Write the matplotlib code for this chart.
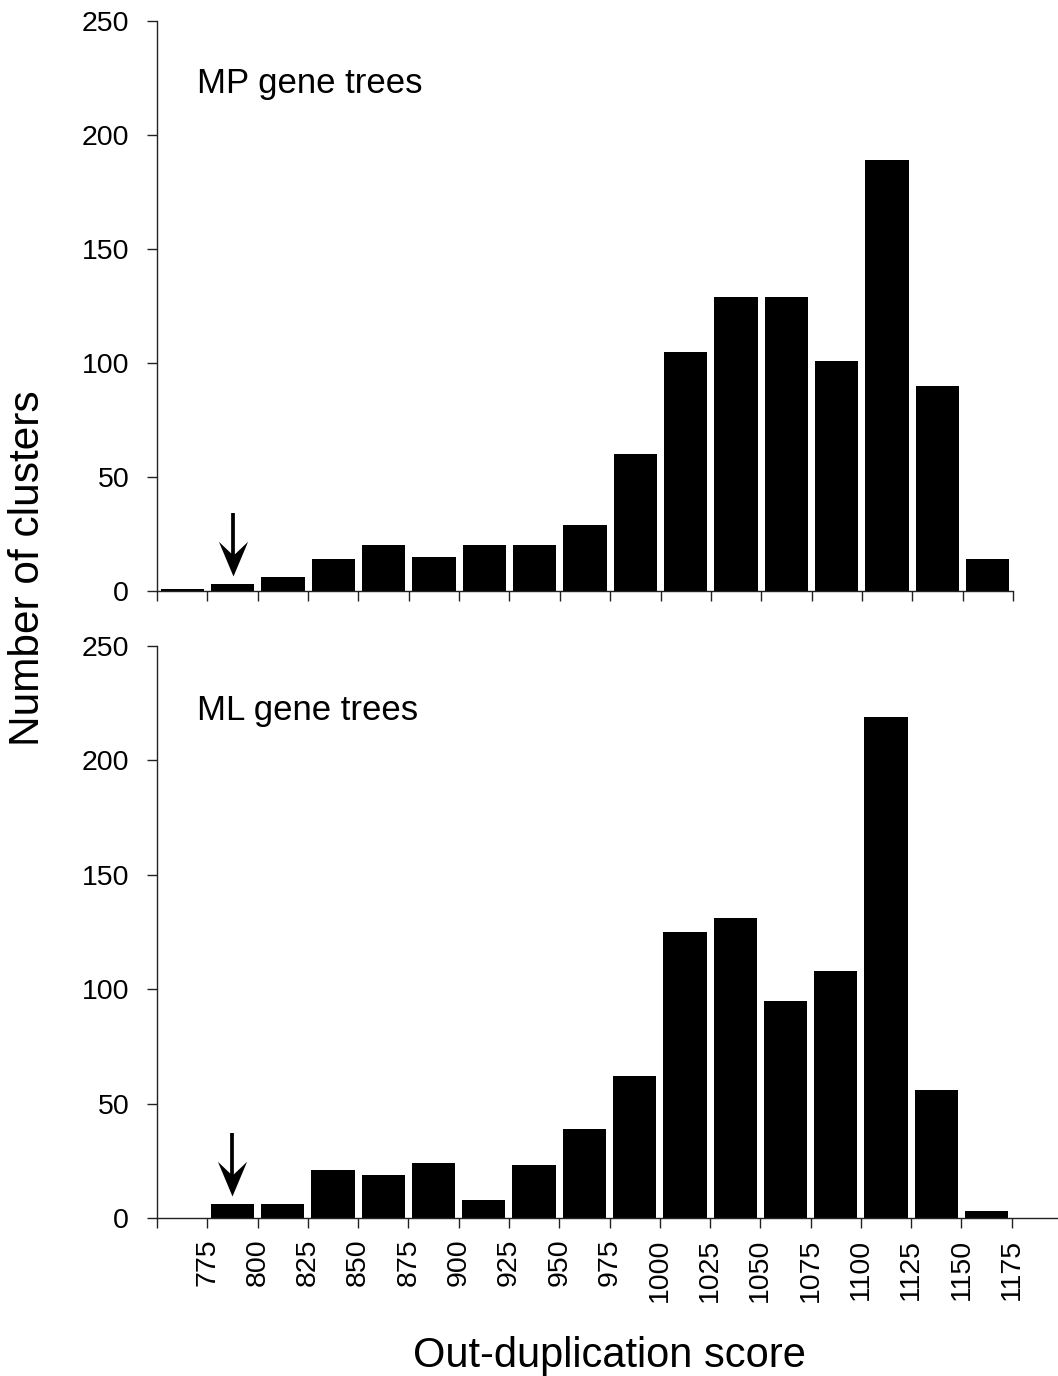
import matplotlib.pyplot as plt
import numpy as np
from matplotlib.path import Path

plt.rcParams['font.family'] = ['Liberation Sans', 'DejaVu Sans']

# bin edges 750..1175, step 25
binStarts = [750, 775, 800, 825, 850, 875, 900, 925, 950, 975,
             1000, 1025, 1050, 1075, 1100, 1125, 1150]
mpCounts = [1, 3, 6, 14, 20, 15, 20, 20, 29, 60,
            105, 129, 129, 101, 189, 90, 14]
mlCounts = [0, 6, 6, 21, 19, 24, 8, 23, 39, 62,
            125, 131, 95, 108, 219, 56, 3]
tickValues = [750, 775, 800, 825, 850, 875, 900, 925, 950, 975, 1000,
              1025, 1050, 1075, 1100, 1125, 1150, 1175]
tickLabels = [""] + [str(v) for v in tickValues[1:]]

BIN = 25
W, H = 1058, 1376

fig = plt.figure(figsize=(W / 100, H / 100), dpi=100)

axTop = fig.add_axes([157 / W, 1 - 591 / H, (1013 - 157) / W, (591 - 21) / H])
axBot = fig.add_axes([157 / W, 1 - 1218 / H, (1058 - 157) / W, (1218 - 646) / H])

# notched arrow head, tip at the origin
HEAD = Path([(0, 0), (-0.42, 1), (0, 0.6), (0.42, 1), (0, 0)],
            [Path.MOVETO, Path.LINETO, Path.LINETO, Path.LINETO, Path.CLOSEPOLY])


def draw_arrow(ax, x, yTip, yTop):
    ax.plot([x, x], [yTop, yTip + 8], color="black", lw=2.7,
            solid_capstyle="butt")
    ax.plot([x], [yTip], marker=HEAD, markersize=50, color="black",
            markeredgewidth=0, linestyle="none")


def style_axis(ax, xmax):
    centers = np.array(binStarts) + BIN / 2
    ax.set_xlim(750, xmax)
    ax.set_ylim(0, 250)
    ax.set_yticks(range(0, 251, 50))
    ax.set_xticks(tickValues)
    for s in ["top", "right"]:
        ax.spines[s].set_visible(False)
    for s in ["left", "bottom"]:
        ax.spines[s].set_linewidth(1.0)
        ax.spines[s].set_color("#222222")
    ax.tick_params(axis="y", direction="out", length=7, width=1.0,
                   pad=13, labelsize=20.5, color="#222222")
    ax.tick_params(axis="x", direction="out", length=7, width=1.0,
                   pad=8, labelsize=20.5, color="#222222")
    return centers


centers = style_axis(axTop, 1175)
axTop.bar(centers, mpCounts, width=21.5, color="black")
axTop.set_xticklabels([])
axTop.text(0.047, 0.89, "MP gene trees", transform=axTop.transAxes,
           fontsize=25, va="center", ha="left")
draw_arrow(axTop, 787.5, 6.6, 34.2)

style_axis(axBot, 1198)
axBot.bar(centers, mlCounts, width=21.5, color="black")
axBot.set_xticklabels(tickLabels, rotation=90)
axBot.text(0.044, 0.888, "ML gene trees", transform=axBot.transAxes,
           fontsize=25, va="center", ha="left")
draw_arrow(axBot, 787.5, 9.6, 37.1)

fig.text(28 / W, 1 - 568 / H, "Number of clusters", rotation=90,
         fontsize=30.5, ha="center", va="center")
fig.text(609 / W, 1 - 1367 / H, "Out-duplication score",
         fontsize=30, ha="center", va="baseline")

fig.savefig("out.png", dpi=100)
